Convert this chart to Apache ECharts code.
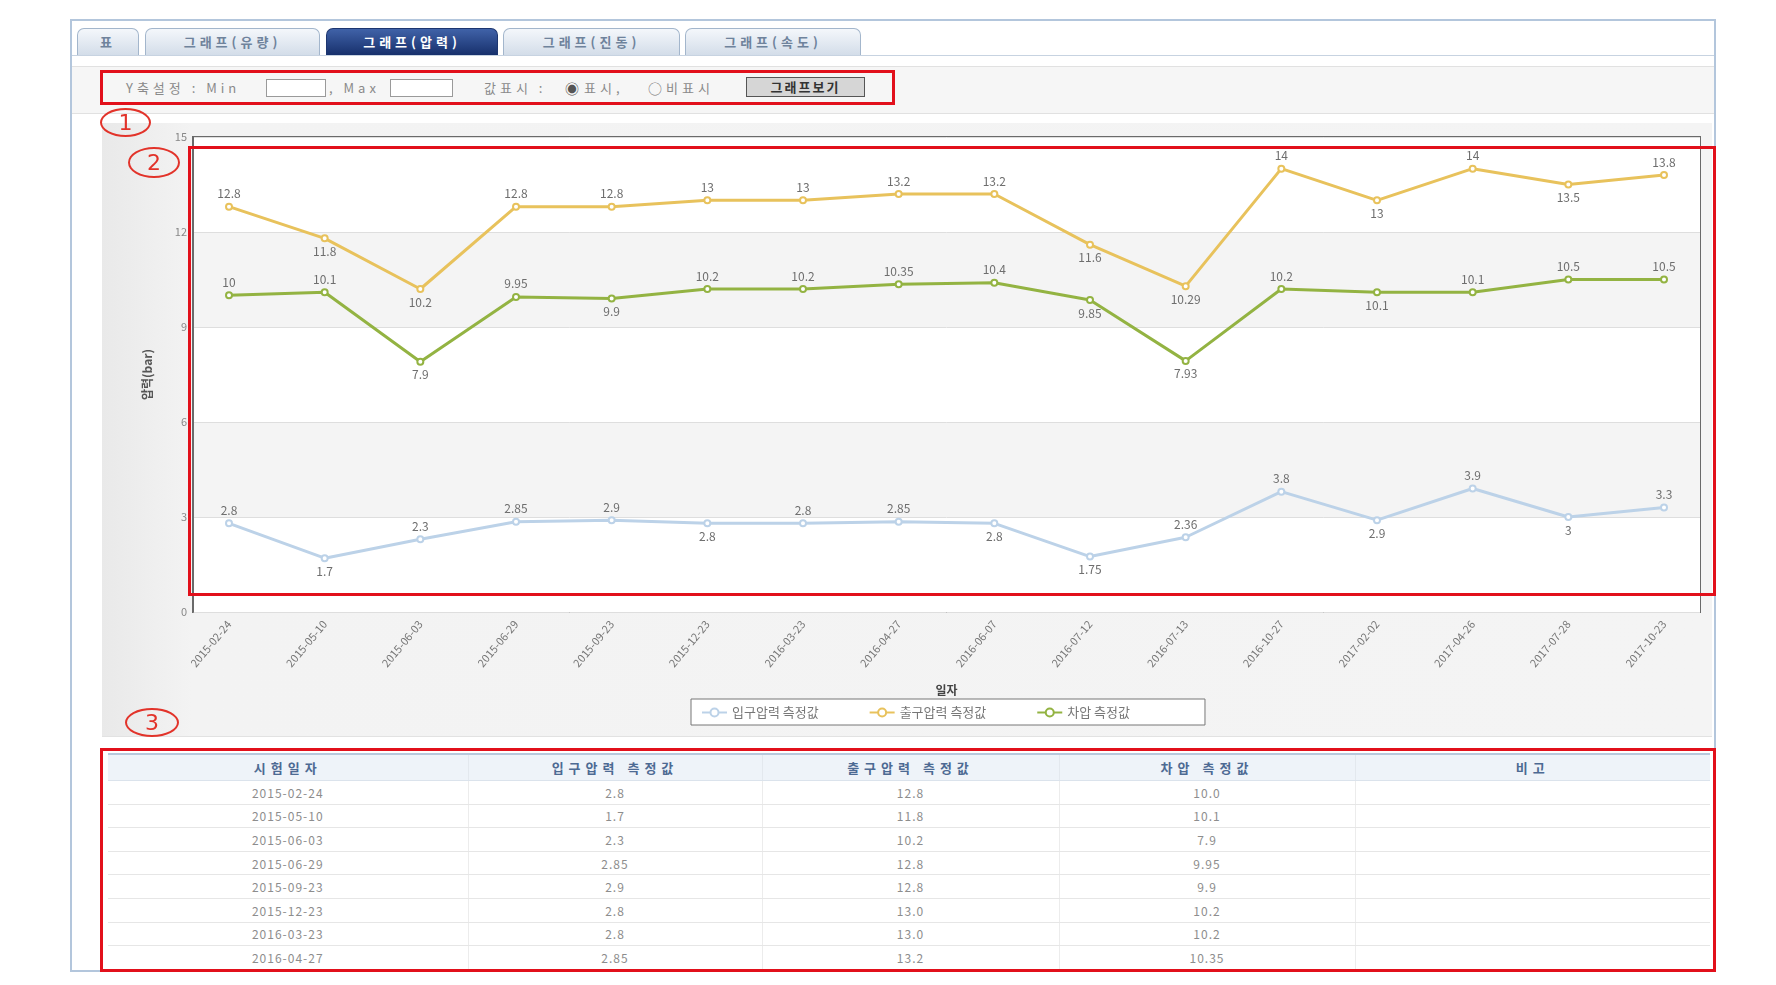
<!DOCTYPE html>
<html>
<head>
<meta charset="utf-8">
<script src="https://cdn.jsdelivr.net/npm/echarts@6/dist/echarts.min.js"></script>
<style>
  body { margin: 0; width: 1776px; height: 985px; overflow: hidden; background: #fff; font-family: "Noto Sans CJK KR", sans-serif; position: relative; }
  .abs { position: absolute; box-sizing: border-box; }
  .outer { left: 70px; top: 19px; width: 1646px; height: 953px; border: 2px solid #b3c6dc; }
  .tab { top: 28px; height: 27px; border: 1px solid #a3b6cc; border-bottom: none; border-radius: 7px 7px 0 0;
         background: linear-gradient(#f4f7fb, #d3dde9); color: #6f839c; font-size: 13px; font-weight: bold;
         text-align: center; line-height: 26px; letter-spacing: 4px; }
  .tab.on { background: linear-gradient(#4062a8, #17306c); color: #fff; border-color: #1d3670; }
  .tabline { left: 72px; top: 55px; width: 1642px; height: 1px; background: #c7d3e1; }
  .ctrl { left: 72px; top: 66px; width: 1642px; height: 48px; background: #f6f6f6; border-top: 1px solid #e1e1e1; border-bottom: 1px solid #e1e1e1; }
  .txt { font-size: 13px; color: #8a8a8a; line-height: 18px; white-space: nowrap; letter-spacing: 4px; }
  .inp { height: 18px; background: #fff; border: 1px solid #9a9a9a; }
  .btn { left: 746px; top: 77px; width: 119px; height: 20px; background: #d6d6d6; border: 1px solid #555;
         font-size: 13px; font-weight: bold; color: #333; text-align: center; line-height: 18px; letter-spacing: 2px; }
  .panel { left: 102px; top: 123px; width: 1610px; height: 614px; background: linear-gradient(90deg, #e9e9e9 0, #f3f3f3 90px, #f4f4f4 100%); border-bottom: 1px solid #e2e2e2; }
  #chart { position: absolute; left: 0; top: 0; width: 1776px; height: 985px; z-index: 1; }
  .red { border: 3px solid #e2101b; z-index: 3; }
  .num { border: 2px solid #e2332a; border-radius: 50%; color: #e2332a; font-size: 22px; text-align: center; z-index: 3; font-family: "DejaVu Sans", sans-serif; }
  table { position: absolute; left: 108px; top: 753px; width: 1602px; border-collapse: collapse; border-top: 2px solid #b7c8dc; table-layout: fixed; }
  th { height: 25px; padding: 0; background: #eef3f9; color: #4d6a93; font-size: 13px; font-weight: bold; letter-spacing: 5px; border-bottom: 1px solid #dbe3ec; border-left: 1px solid #e3e8ee; }
  td { height: 22.6px; padding: 0; color: #8d8d8d; font-size: 12px; text-align: center; border-bottom: 1px solid #e6e6e6; border-left: 1px solid #ececec; letter-spacing: 1px; }
  th:first-child, td:first-child { border-left: none; }
</style>
</head>
<body>
<div class="abs outer"></div>
<div class="abs tab" style="left:77px;width:62px">표</div>
<div class="abs tab" style="left:145px;width:175px">그래프(유량)</div>
<div class="abs tab on" style="left:326px;width:172px">그래프(압력)</div>
<div class="abs tab" style="left:503px;width:177px">그래프(진동)</div>
<div class="abs tab" style="left:685px;width:176px">그래프(속도)</div>
<div class="abs tabline"></div>
<div class="abs ctrl"></div>
<div class="abs txt" style="left:126px;top:79px">Y축설정 : Min</div>
<div class="abs inp" style="left:266px;top:79px;width:60px"></div>
<div class="abs txt" style="left:329px;top:79px">, Max</div>
<div class="abs inp" style="left:390px;top:79px;width:63px"></div>
<div class="abs txt" style="left:484px;top:79px">값표시 :</div>
<div class="abs txt" style="left:565px;top:79px;font-size:14px;color:#555">◉</div>
<div class="abs txt" style="left:584px;top:79px">표시,</div>
<div class="abs txt" style="left:648px;top:79px;font-size:14px;color:#777">○</div>
<div class="abs txt" style="left:666px;top:79px">비표시</div>
<div class="abs btn">그래프보기</div>
<div class="abs panel"></div>

<table id="tbl"></table>

<div id="chart"></div>

<div class="abs red" style="left:100px;top:70px;width:795px;height:35px"></div>
<div class="abs red" style="left:188px;top:146px;width:1528px;height:450px"></div>
<div class="abs red" style="left:100px;top:748px;width:1616px;height:224px"></div>
<div class="abs num" style="left:100px;top:108px;width:51px;height:29px;line-height:25px">1</div>
<div class="abs num" style="left:128px;top:147px;width:52px;height:31px;line-height:27px">2</div>
<div class="abs num" style="left:125px;top:708px;width:54px;height:29px;line-height:25px">3</div>

<script>
var dates = ['2015-02-24', '2015-05-10', '2015-06-03', '2015-06-29', '2015-09-23', '2015-12-23',
    '2016-03-23', '2016-04-27', '2016-06-07', '2016-07-12', '2016-07-13', '2016-10-27',
    '2017-02-02', '2017-04-26', '2017-07-28', '2017-10-23'];
var inletP = [2.8, 1.7, 2.3, 2.85, 2.9, 2.8, 2.8, 2.85, 2.8, 1.75, 2.36, 3.8, 2.9, 3.9, 3, 3.3];
var outletP = [12.8, 11.8, 10.2, 12.8, 12.8, 13, 13, 13.2, 13.2, 11.6, 10.29, 14, 13, 14, 13.5, 13.8];
var diffP = [10, 10.1, 7.9, 9.95, 9.9, 10.2, 10.2, 10.35, 10.4, 9.85, 7.93, 10.2, 10.1, 10.1, 10.5, 10.5];
var seriesNames = ['입구압력 측정값', '출구압력 측정값', '차압 측정값'];
var tableHead = ['시험일자', '입구압력 측정값', '출구압력 측정값', '차압 측정값', '비고'];
var tableCols = [360, 294, 297, 296, 355];
var tableRows = 8;

(function () {
    'use strict';

    // table under the chart
    function fmt(v) {
        var s = String(v);
        return s.indexOf('.') < 0 ? s + '.0' : s;
    }
    var html = '<colgroup>' + tableCols.map(function (w) { return '<col style="width:' + w + 'px">'; }).join('') + '</colgroup>';
    html += '<tr>' + tableHead.map(function (h) { return '<th>' + h + '</th>'; }).join('') + '</tr>';
    for (var i = 0; i < tableRows; i++) {
        html += '<tr><td>' + dates[i] + '</td><td>' + fmt(inletP[i]) + '</td><td>' + fmt(outletP[i]) +
            '</td><td>' + fmt(diffP[i]) + '</td><td></td></tr>';
    }
    document.getElementById('tbl').innerHTML = html;

    // labels go under the point when the line drops
    function points(vals) {
        return vals.map(function (v, i) {
            return { value: v, label: { position: i > 0 && v < vals[i - 1] ? 'bottom' : 'top' } };
        });
    }

    function line(name, vals, color) {
        return {
            name: name,
            type: 'line',
            xAxisIndex: 1,
            yAxisIndex: 1,
            data: points(vals),
            symbol: 'emptyCircle',
            symbolSize: 6,
            lineStyle: { color: color, width: 3 },
            itemStyle: { color: color, borderWidth: 1.5 },
            label: { show: true, color: '#6e6e6e', fontSize: 12, distance: 3 },
            z: 3
        };
    }

    var chart = echarts.init(document.getElementById('chart'));
    chart.setOption({
        animation: false,
        textStyle: { fontFamily: 'Noto Sans CJK KR' },
        grid: [
            { left: 193, top: 137, width: 1507, height: 475, show: true, borderColor: '#6a6a6a', borderWidth: 2, backgroundColor: 'transparent' },
            { left: 229, top: 137, width: 1435, height: 475 }
        ],
        xAxis: [
            { gridIndex: 0, type: 'value', show: false, min: 0, max: 1 },
            {
                gridIndex: 1, type: 'category', data: dates, boundaryGap: false,
                axisLine: { show: false }, axisTick: { show: false },
                axisLabel: { rotate: 50, color: '#777', fontSize: 11, margin: 10 },
                name: '일자', nameLocation: 'middle', nameGap: 72,
                nameTextStyle: { color: '#444', fontSize: 12, fontWeight: 'bold' }
            }
        ],
        yAxis: [
            {
                gridIndex: 0, type: 'value', min: 0, max: 15, interval: 3,
                axisLine: { show: true, lineStyle: { color: '#6a6a6a', width: 2 } },
                axisTick: { show: false },
                axisLabel: { color: '#888', fontSize: 11, margin: 6 },
                splitLine: { lineStyle: { color: '#dedede' } },
                splitArea: { show: true, areaStyle: { color: ['#ffffff', '#f4f4f4'] } },
                name: '압력(bar)', nameLocation: 'middle', nameGap: 40,
                nameTextStyle: { color: '#555', fontSize: 12, fontWeight: 'bold' }
            },
            { gridIndex: 1, type: 'value', min: 0, max: 15, show: false }
        ],
        legend: {
            left: 691, top: 699,
            padding: [7, 75, 6, 10],
            itemGap: 50, itemWidth: 25, itemHeight: 10,
            backgroundColor: '#fff', borderColor: '#777', borderWidth: 1,
            textStyle: { color: '#777', fontSize: 13 },
            data: seriesNames
        },
        series: [
            line(seriesNames[0], inletP, '#bcd2e8'),
            line(seriesNames[1], outletP, '#e8c25c'),
            line(seriesNames[2], diffP, '#93b342')
        ]
    });
})();
</script>
</body>
</html>
